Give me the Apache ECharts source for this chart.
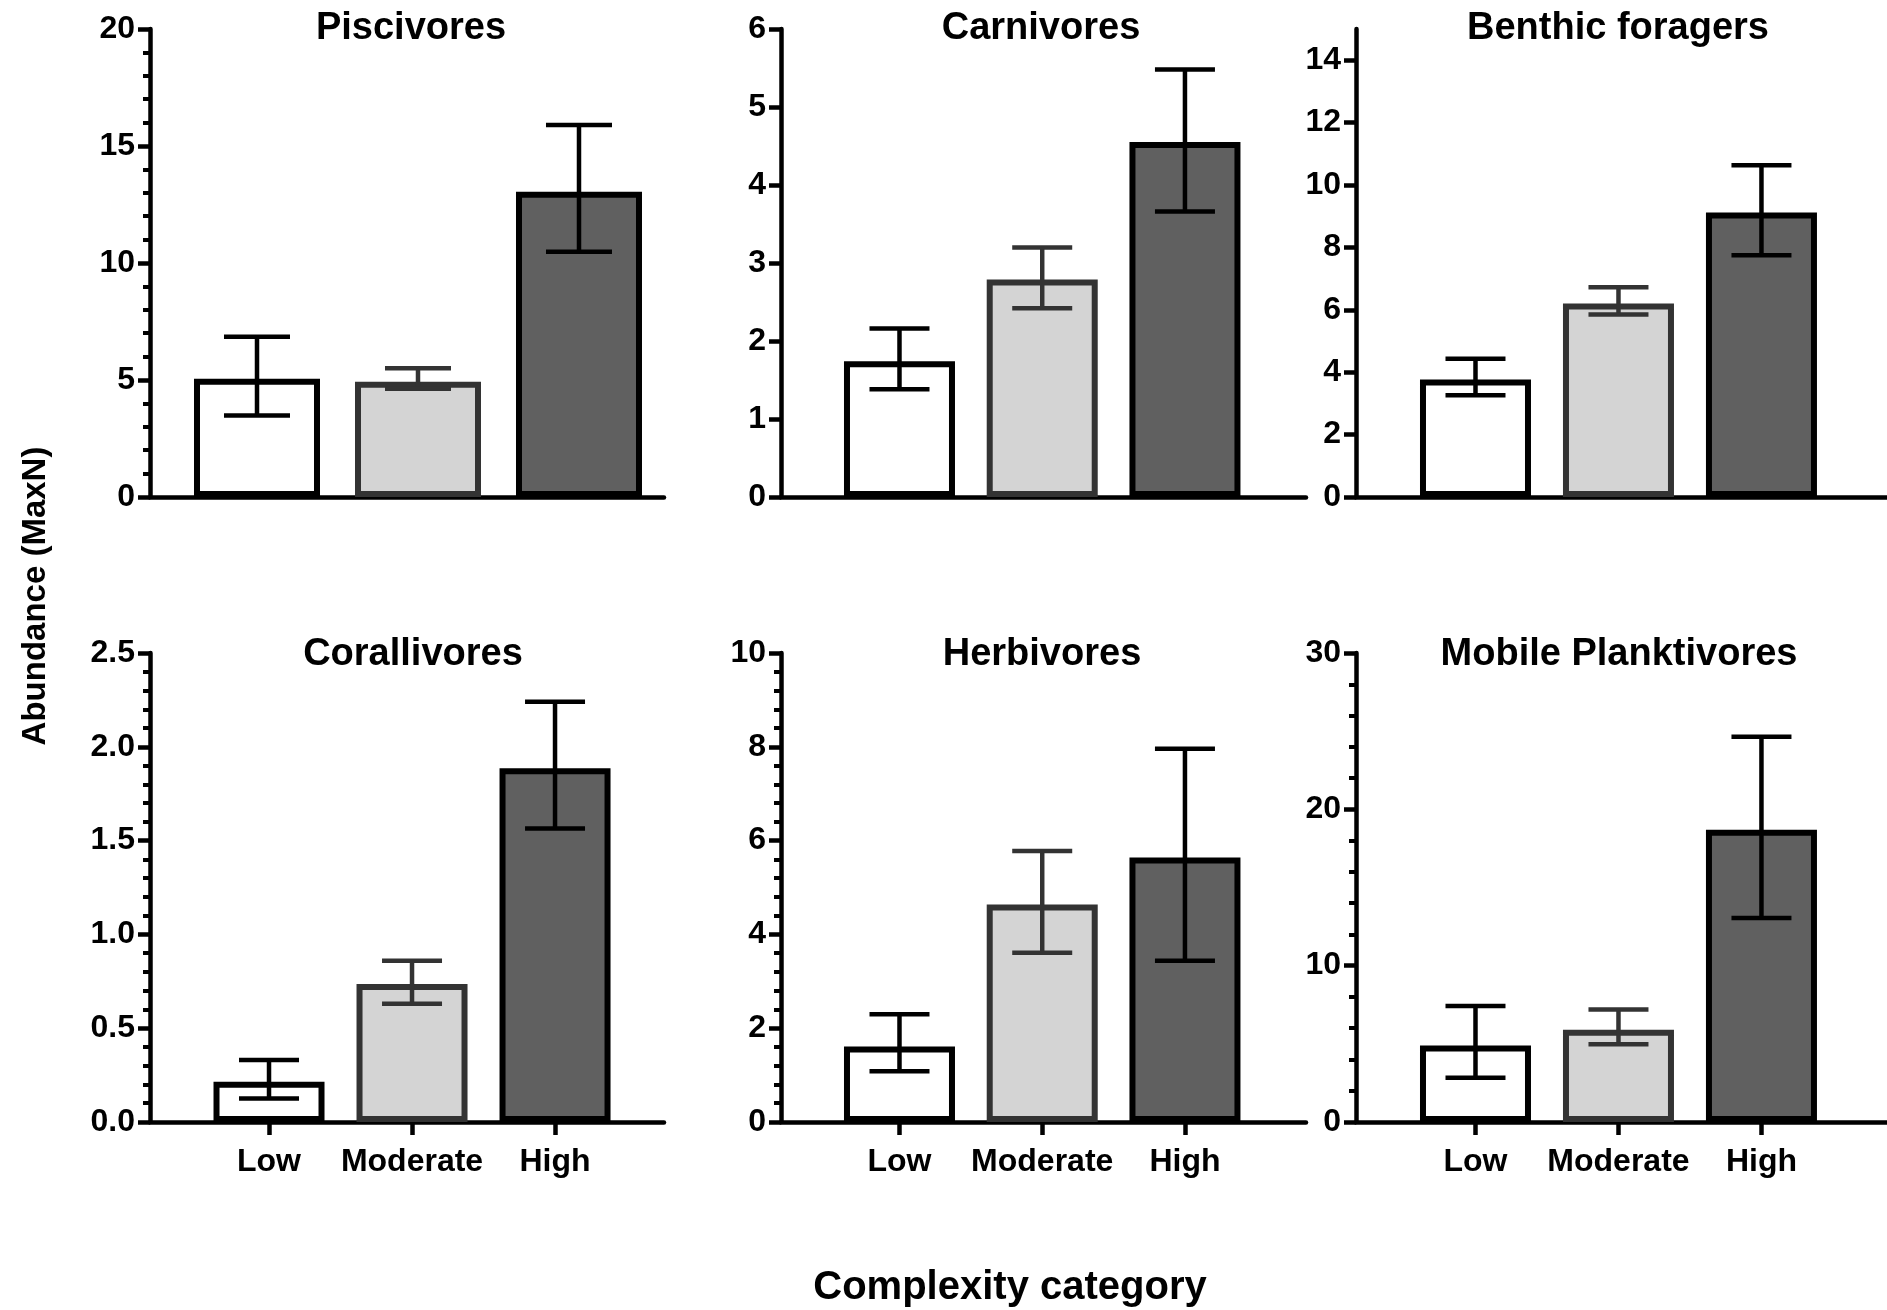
<!DOCTYPE html>
<html>
<head>
<meta charset="utf-8">
<script src="https://cdn.jsdelivr.net/npm/echarts@6/dist/echarts.min.js"></script>
<style>
html,body{margin:0;padding:0;background:#fff;}
#chart{width:1887px;height:1310px;}
</style>
</head>
<body>
<div id="chart"></div>
<script>
// ---------- DATA ----------
const categories = ['Low', 'Moderate', 'High'];
const panelTitles = ['Piscivores', 'Carnivores', 'Benthic foragers', 'Corallivores', 'Herbivores', 'Mobile Planktivores'];

const piscivoresMean  = [5.05, 4.93, 13.05];
const piscivoresUpper = [6.85, 5.50, 15.90];
const piscivoresLower = [3.48, 4.63, 10.48];

const carnivoresMean  = [1.74, 2.79, 4.55];
const carnivoresUpper = [2.16, 3.20, 5.48];
const carnivoresLower = [1.38, 2.42, 3.66];

const benthicMean  = [3.77, 6.20, 9.12];
const benthicUpper = [4.43, 6.72, 10.63];
const benthicLower = [3.26, 5.85, 7.75];

const corallivoresMean  = [0.215, 0.735, 1.885];
const corallivoresUpper = [0.330, 0.860, 2.240];
const corallivoresLower = [0.125, 0.630, 1.565];

const herbivoresMean  = [1.61, 4.64, 5.64];
const herbivoresUpper = [2.30, 5.78, 7.96];
const herbivoresLower = [1.08, 3.61, 3.44];

const planktivoresMean  = [4.90, 5.90, 18.70];
const planktivoresUpper = [7.42, 7.20, 24.65];
const planktivoresLower = [2.83, 4.98, 13.05];

const piscivoresTicks   = [0, 5, 10, 15, 20];
const carnivoresTicks   = [0, 1, 2, 3, 4, 5, 6];
const benthicTicks      = [0, 2, 4, 6, 8, 10, 12, 14];
const corallivoresTicks = [0, 0.5, 1.0, 1.5, 2.0, 2.5];
const herbivoresTicks   = [0, 2, 4, 6, 8, 10];
const planktivoresTicks = [0, 10, 20, 30];

// ---------- STYLE / LAYOUT ----------
const fills   = ['#ffffff', '#d4d4d4', '#606060'];
const borders = ['#000000', '#333333', '#000000'];
const FONT = "'Liberation Sans', Arial, Helvetica, sans-serif";

const panels = [
  {mean: piscivoresMean, up: piscivoresUpper, lo: piscivoresLower, ticks: piscivoresTicks, max: 20, minor: true,
   left: 150, top: 29, width: 514, height: 468, xmin: 0.3354, xmax: 3.528, barW: 126, cap: 33, titleX: 411, titleY: 29, labels: false, dec: 0},
  {mean: carnivoresMean, up: carnivoresUpper, lo: carnivoresLower, ticks: carnivoresTicks, max: 6, minor: false,
   left: 781, top: 29, width: 525, height: 468, xmin: 0.1699, xmax: 3.848, barW: 111, cap: 30, titleX: 1041, titleY: 29, labels: false, dec: 0},
  {mean: benthicMean, up: benthicUpper, lo: benthicLower, ticks: benthicTicks, max: 15, minor: false,
   left: 1356, top: 29, width: 531, height: 468, xmin: 0.1643, xmax: 3.878, barW: 111, cap: 30, titleX: 1618, titleY: 29, labels: false, dec: 0},
  {mean: corallivoresMean, up: corallivoresUpper, lo: corallivoresLower, ticks: corallivoresTicks, max: 2.5, minor: true,
   left: 150, top: 653, width: 514, height: 469, xmin: 0.1678, xmax: 3.762, barW: 111, cap: 30, titleX: 413, titleY: 655, labels: true, dec: 1},
  {mean: herbivoresMean, up: herbivoresUpper, lo: herbivoresLower, ticks: herbivoresTicks, max: 10, minor: true,
   left: 781, top: 653, width: 525, height: 469, xmin: 0.1699, xmax: 3.848, barW: 111, cap: 30, titleX: 1042, titleY: 655, labels: true, dec: 0},
  {mean: planktivoresMean, up: planktivoresUpper, lo: planktivoresLower, ticks: planktivoresTicks, max: 30, minor: true,
   left: 1356, top: 653, width: 531, height: 469, xmin: 0.1643, xmax: 3.878, barW: 111, cap: 30, titleX: 1619, titleY: 655, labels: true, dec: 0}
];

const grid = [], xAxis = [], yAxis = [], series = [], title = [];
const catPos = categories.map((c, i) => i + 1);

panels.forEach((p, k) => {
  grid.push({left: p.left, top: p.top, width: p.width, height: p.height, containLabel: false});
  title.push({
    text: panelTitles[k], left: p.titleX, top: p.titleY - 22, textAlign: 'center', padding: 0,
    textStyle: {fontFamily: FONT, fontWeight: 'bold', fontSize: 38, lineHeight: 44, color: '#000'}
  });
  xAxis.push({
    type: 'value', gridIndex: k, min: p.xmin, max: p.xmax,
    splitLine: {show: false},
    axisLine: {show: true, onZero: false, lineStyle: {color: '#000', width: 4.5}},
    axisTick: {show: p.labels, customValues: catPos, length: 13, lineStyle: {color: '#000', width: 4.5}},
    axisLabel: {show: p.labels, customValues: catPos, margin: 24,
      formatter: v => categories[Math.round(v) - 1] || '',
      fontFamily: FONT, fontWeight: 'bold', fontSize: 32, color: '#000'}
  });
  yAxis.push({
    type: 'value', gridIndex: k, min: 0, max: p.max, interval: p.ticks[1] - p.ticks[0],
    splitLine: {show: false},
    axisLine: {show: true, onZero: false, lineStyle: {color: '#000', width: 4.5}},
    axisTick: {show: true, customValues: p.ticks, length: 12, lineStyle: {color: '#000', width: 4.5}},
    minorTick: {show: p.minor, splitNumber: 5, length: 7, lineStyle: {color: '#000', width: 4}},
    axisLabel: {show: true, customValues: p.ticks, margin: 15,
      formatter: v => v.toFixed(p.dec),
      fontFamily: FONT, fontWeight: 'bold', fontSize: 32, color: '#000'}
  });
  series.push({
    type: 'bar', xAxisIndex: k, yAxisIndex: k, barWidth: p.barW, z: 2,
    data: p.mean.map((v, i) => ({
      value: [catPos[i], v],
      itemStyle: {color: fills[i], borderColor: borders[i], borderWidth: 6}
    }))
  });
  const cap = p.cap;
  series.push({
    type: 'custom', xAxisIndex: k, yAxisIndex: k, z: 5,
    encode: {x: 0, y: [1, 2]},
    data: p.mean.map((v, i) => [catPos[i], p.lo[i], p.up[i]]),
    renderItem: function (params, api) {
      const x = api.value(0);
      const a = api.coord([x, api.value(1)]);
      const b = api.coord([x, api.value(2)]);
      const st = {stroke: borders[params.dataIndex], lineWidth: 4.5, fill: null};
      return {
        type: 'group',
        children: [
          {type: 'line', shape: {x1: a[0], y1: a[1], x2: b[0], y2: b[1]}, style: st},
          {type: 'line', shape: {x1: a[0] - cap, y1: a[1], x2: a[0] + cap, y2: a[1]}, style: st},
          {type: 'line', shape: {x1: b[0] - cap, y1: b[1], x2: b[0] + cap, y2: b[1]}, style: st}
        ]
      };
    }
  });
});

const chart = echarts.init(document.getElementById('chart'), null, {renderer: 'canvas'});
chart.setOption({
  backgroundColor: '#ffffff',
  animation: false,
  title: title,
  grid: grid,
  xAxis: xAxis,
  yAxis: yAxis,
  series: series,
  graphic: [
    {type: 'text', x: 36, y: 596, rotation: Math.PI / 2,
     style: {text: 'Abundance (MaxN)', fontFamily: FONT, fontWeight: 'bold', fontSize: 33, fill: '#000',
             textAlign: 'center', textVerticalAlign: 'middle'}},
    {type: 'text', x: 1010, y: 1288,
     style: {text: 'Complexity category', fontFamily: FONT, fontWeight: 'bold', fontSize: 40, fill: '#000',
             textAlign: 'center', textVerticalAlign: 'middle'}}
  ]
});
</script>
</body>
</html>
